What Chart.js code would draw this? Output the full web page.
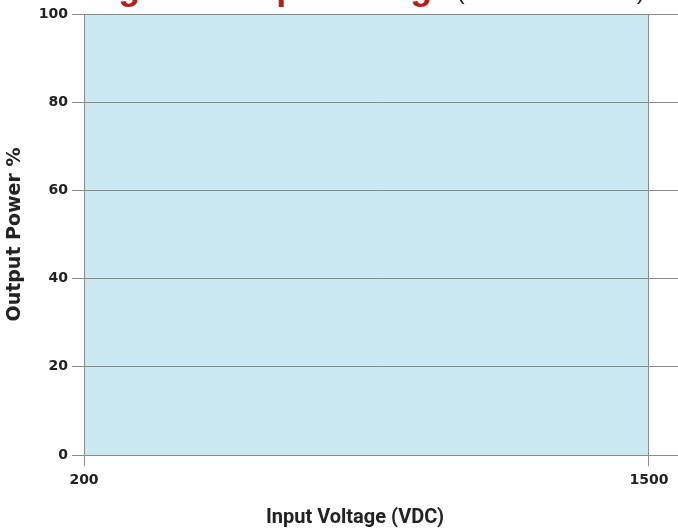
<!DOCTYPE html>
<html>
<head>
<meta charset="utf-8">
<script src="https://cdn.jsdelivr.net/npm/chart.js@4/dist/chart.umd.min.js"></script>
<style>
  html, body { margin: 0; padding: 0; background: #fff; overflow: hidden; }
  #wrap { position: relative; width: 678px; height: 529px; overflow: hidden; }
  #heading {
    position: absolute; left: 33px; top: -31px; white-space: nowrap;
    font-family: 'Liberation Sans', Arial, sans-serif; line-height: 36px;
  }
  #heading .red { color: #b3211d; font-weight: bold; font-size: 36px; }
  #heading .blk { color: #222; font-size: 24px; }
  canvas { position: absolute; left: 0; top: 0; }
</style>
</head>
<body>
<div id="wrap">
  <canvas id="deratingChart" width="678" height="529"></canvas>
  <div id="heading"><span class="red">Voltage to Output Range</span> <span class="blk">(200 - 1500 VDC)</span></div>
</div>
<script>
// ── Data ───────────────────────────────────────
const inputVoltage = [200, 1500];      // VDC
const outputPower  = [100, 100];       // % of rated output
const xTickValues  = [200, 1500];
const yTickValues  = [0, 20, 40, 60, 80, 100];
const xAxisEnd     = 1567;             // axis runs a bit past 1500
const xAxisLabel   = 'Input Voltage (VDC)';
const yAxisLabel   = 'Output Power %';

const GRID = '#8a8a8a';
const TEXT = '#222';

// ── X axis title (sits a little left of the plot centre) ──
const xTitlePlugin = {
    id: 'xTitle',
    afterDraw(chart) {
        const c = chart.ctx;
        c.save();
        c.font = 'bold 20px Roboto';
        c.fillStyle = TEXT;
        c.textAlign = 'center';
        c.textBaseline = 'alphabetic';
        c.fillText(xAxisLabel, 355, 523);
        c.restore();
    }
};

// ── Chart ──────────────────────────────────────
const ctx = document.getElementById('deratingChart');
new Chart(ctx, {
    type: 'line',
    data: {
        datasets: [{
            data: inputVoltage.map((v, i) => ({ x: v, y: outputPower[i] })),
            fill: 'origin',
            backgroundColor: 'rgb(201,232,241)',
            borderWidth: 0,
            pointRadius: 0
        }]
    },
    plugins: [xTitlePlugin],
    options: {
        responsive: false, animation: false,
        layout: { padding: { top: 14, right: 0, bottom: 0, left: 0 } },
        plugins: { legend: { display: false }, tooltip: { enabled: false } },
        scales: {
            x: {
                type: 'linear', min: inputVoltage[0], max: xAxisEnd,
                afterBuildTicks: s => { s.ticks = xTickValues.map(v => ({ value: v })); },
                afterFit: s => { s.height = 74; },
                grid: { color: GRID, lineWidth: 1, tickLength: 11, z: 1 },
                border: { color: GRID, z: 1 },
                ticks: {
                    color: TEXT, padding: 6, maxRotation: 0,
                    callback: v => String(v),
                    font: { family: 'DejaVu Sans', weight: 'bold', size: 14 }
                },
                title: { display: false }
            },
            y: {
                min: 0, max: 100,
                afterBuildTicks: s => { s.ticks = yTickValues.map(v => ({ value: v })); },
                afterFit: s => { s.width = 84; },
                grid: { color: GRID, lineWidth: 1, tickLength: 12, z: 1 },
                border: { color: GRID, z: 1 },
                ticks: {
                    color: TEXT, padding: 4,
                    font: { family: 'DejaVu Sans', weight: 'bold', size: 14 }
                },
                title: {
                    display: true, text: yAxisLabel, color: TEXT,
                    font: { family: 'DejaVu Sans', weight: 'bold', size: 19 },
                    padding: { top: 4, bottom: 0 }
                }
            }
        }
    }
});
</script>
</body>
</html>
